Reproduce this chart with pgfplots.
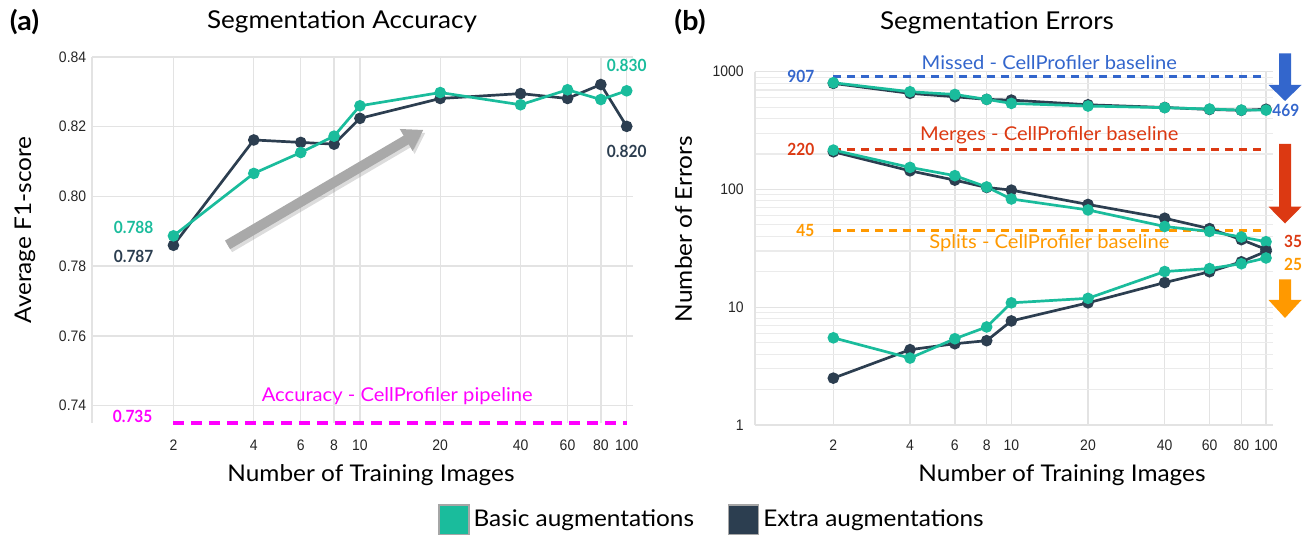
\documentclass[border=0pt]{standalone}
\usepackage{fontspec}
\setmainfont{Lato}[FakeStretch=1.06]
\newfontfamily\tickfont[FakeStretch=0.92]{Liberation Sans}
\newfontfamily\numfam[FakeStretch=0.92]{Lato}
\usepackage{pgfplots}
\pgfplotsset{compat=1.18}
\usetikzlibrary{arrows.meta}

\definecolor{basic}{HTML}{1ABC9C}
\definecolor{extra}{HTML}{2C3E50}
\definecolor{cpmag}{HTML}{FF00FF}
\definecolor{cpblue}{HTML}{3366CC}
\definecolor{cpred}{HTML}{DC3912}
\definecolor{cporange}{HTML}{FF9900}
\definecolor{gridgray}{HTML}{E3E3E3}
\definecolor{arrowgray}{HTML}{A9A9A9}

\newcommand{\labfont}{\fontsize{11.5}{13}\selectfont}
\newcommand{\titfont}{\fontsize{12.3}{14}\selectfont}
\newcommand{\numfont}{\numfam\bfseries\fontsize{8.4}{9}\selectfont}
\newcommand{\basefont}{\fontsize{9.5}{11}\selectfont}
\newcommand{\tickfnt}{\tickfont\fontsize{7.6}{8}\selectfont}

\tikzset{
  ser/.style={draw=#1, line width=1.35pt, mark=*, mark size=2.2pt, mark options={solid, draw=#1, fill=#1}},
  cpline/.style={draw=#1, line width=1.5pt, dash pattern=on 3.8pt off 3.2pt},
}

\begin{document}
\begin{tikzpicture}
\useasboundingbox (0,0) rectangle (653pt,267.5pt);

% (a) accuracy
\begin{axis}[
    scale only axis, anchor=south west, clip=false,
    at={(46pt,56.15pt)}, width=270.5pt, height=182.85pt,
    xmode=log,
    xmin=0.99, xmax=105.6, ymin=0.7351, ymax=0.84,
    xtick={2,4,6,8,10,20,40,60,80,100},
    xticklabels={2,4,6,8,10,20,40,60,80,100},
    minor xtick={},
    ytick={0.74,0.76,0.78,0.80,0.82,0.84},
    yticklabels={0.74,0.76,0.78,0.80,0.82,0.84},
    xmajorgrids, ymajorgrids,
    major grid style={gridgray, line width=0.7pt},
    major tick length=0pt, minor tick length=0pt,
    axis lines*=left,
    x axis line style={draw=none},
    y axis line style={draw=gridgray, line width=0.7pt},
    tick label style={font=\tickfnt, text=black!85, inner sep=0pt},
    yticklabel style={anchor=east, xshift=-2.7pt},
    xticklabel style={anchor=north, yshift=-8.5pt},
    legend style={at={(1.148,-0.2661)}, anchor=center, draw=none, fill=none,
      font=\labfont, inner sep=0pt, legend columns=2,
      /tikz/every even column/.append style={column sep=15pt}},
  ]
  \addlegendimage{legend image code/.code={\draw[fill=basic, draw=gray!70, line width=0.6pt] (0pt,-7.5pt) rectangle (15pt,7.5pt);}}
  \addlegendentry{Basic augmentations}
  \addlegendimage{legend image code/.code={\draw[fill=extra, draw=gray!70, line width=0.6pt] (0pt,-7.5pt) rectangle (15pt,7.5pt);}}
  \addlegendentry{Extra augmentations}

  \addplot[cpline=cpmag, line width=2pt, dash pattern=on 5.3pt off 3.7pt, forget plot] coordinates {(2,0.735) (100,0.735)};

  \draw[line width=5pt, black!45, opacity=0.3, -{Triangle[length=10pt,width=12pt]}]
    ([xshift=1pt,yshift=-1.5pt]axis cs:3.19,0.7861) -- ([xshift=1pt,yshift=-1.5pt]axis cs:17.3,0.8191);
  \draw[line width=5pt, arrowgray, -{Triangle[length=10pt,width=12pt]}]
    (axis cs:3.19,0.7861) -- (axis cs:17.3,0.8191);

  \addplot[ser=extra, forget plot] coordinates {
    (2,0.7860) (4,0.8162) (6,0.8155) (8,0.8150) (10,0.8224)
    (20,0.8281) (40,0.8295) (60,0.8281) (80,0.8321) (100,0.8201)};
  \addplot[ser=basic, forget plot] coordinates {
    (2,0.7887) (4,0.8066) (6,0.8126) (8,0.8173) (10,0.8260)
    (20,0.8298) (40,0.8263) (60,0.8306) (80,0.8278) (100,0.8303)};

  \node[basic, font=\numfont, anchor=east, xshift=-6.5pt] at (axis cs:2,0.791) {0.788};
  \node[extra, font=\numfont, anchor=east, xshift=-6.5pt] at (axis cs:2,0.7827) {0.787};
  \node[cpmag, font=\numfont, anchor=east, xshift=-7pt] at (axis cs:2,0.7368) {0.735};
  \node[basic, font=\numfont] at (axis cs:100,0.8375) {0.830};
  \node[extra, font=\numfont] at (axis cs:100,0.8130) {0.820};
  \node[cpmag, font=\basefont] at (axis cs:13.8,0.7426) {Accuracy - CellProfiler pipeline};
\end{axis}

% (b) errors
\begin{axis}[
    scale only axis, anchor=south west, clip=false,
    at={(377.5pt,55pt)}, width=259.15pt, height=176.65pt,
    xmode=log, ymode=log,
    xmin=0.985, xmax=106.8, ymin=1, ymax=1000,
    xtick={2,4,6,8,10,20,40,60,80,100},
    xticklabels={2,4,6,8,10,20,40,60,80,100},
    minor xtick={},
    ytick={1,10,100,1000}, yticklabels={1,10,100,1000},
    minor ytick={2,3,4,5,6,7,8,9,20,30,40,50,60,70,80,90,200,300,400,500,600,700,800,900},
    xmajorgrids, ymajorgrids, yminorgrids,
    major grid style={gridgray, line width=0.7pt},
    minor grid style={gridgray!70, line width=0.55pt},
    major tick length=0pt, minor tick length=0pt,
    axis lines*=left,
    x axis line style={draw=none},
    y axis line style={draw=gridgray, line width=0.7pt},
    tick label style={font=\tickfnt, text=black!85, inner sep=0pt},
    yticklabel style={anchor=east, xshift=-5.5pt},
    xticklabel style={anchor=north, yshift=-7.3pt},
  ]
  \addplot[cpline=cpblue] coordinates {(2,907) (100,907)};
  \addplot[cpline=cpred] coordinates {(2,220) (100,220)};
  \addplot[cpline=cporange] coordinates {(2,45) (100,45)};

  % missed
  \addplot[ser=extra] coordinates {
    (2,796) (4,655) (6,613) (8,582) (10,574) (20,524) (40,497) (60,478) (80,470) (100,480)};
  \addplot[ser=basic] coordinates {
    (2,806) (4,676) (6,641) (8,582) (10,538) (20,511) (40,495) (60,482) (80,472) (100,472)};
  % merges
  \addplot[ser=extra] coordinates {
    (2,209) (4,144) (6,120) (8,104) (10,98.7) (20,74.6) (40,57) (60,46.5) (80,37.5) (100,31)};
  \addplot[ser=basic] coordinates {
    (2,216) (4,154) (6,131) (8,105) (10,83) (20,67) (40,48.5) (60,44) (80,39.5) (100,36)};
  % splits
  \addplot[ser=extra] coordinates {
    (2,2.5) (4,4.36) (6,4.9) (8,5.2) (10,7.65) (20,10.9) (40,16.2) (60,20) (80,24.3) (100,29.8)};
  \addplot[ser=basic] coordinates {
    (2,5.5) (4,3.7) (6,5.4) (8,6.8) (10,10.9) (20,11.9) (40,20.1) (60,21.3) (80,23.4) (100,26.2)};

  \node[cpblue, font=\numfont, anchor=east, xshift=-6pt] at (axis cs:2,907) {907};
  \node[cpred, font=\numfont, anchor=east, xshift=-6pt] at (axis cs:2,220) {220};
  \node[cporange, font=\numfont, anchor=east, xshift=-6pt] at (axis cs:2,45) {45};
  \node[cpblue, font=\numfont, anchor=west, xshift=2.5pt, inner sep=0.5pt] at (axis cs:100,469) {469};
  \node[cpred, font=\numfont, anchor=west, xshift=5.5pt] at (axis cs:100,36) {35};
  \node[cporange, font=\numfont, anchor=west, xshift=5.5pt] at (axis cs:100,23) {25};
  \node[cpblue, font=\basefont] at (axis cs:14.1,1200) {Missed - CellProfiler baseline};
  \node[cpred, font=\basefont] at (axis cs:14.1,290) {Merges - CellProfiler baseline};
  \node[cporange, font=\basefont] at (axis cs:14.1,35.2) {Splits - CellProfiler baseline};
\end{axis}

% big arrows on the right
\fill[cpblue] (639.5pt,240.85pt) -- (645.5pt,240.85pt) -- (645.5pt,225pt) -- (650.75pt,225pt)
  -- (642.5pt,217pt) -- (634.25pt,225pt) -- (639.5pt,225pt) -- cycle;
\fill[cpred] (639.5pt,195.5pt) -- (645.5pt,195.5pt) -- (645.5pt,164.15pt) -- (650.75pt,164.15pt)
  -- (642.5pt,155.75pt) -- (634.25pt,164.15pt) -- (639.5pt,164.15pt) -- cycle;
\fill[cporange] (639.5pt,127.85pt) -- (645.5pt,127.85pt) -- (645.5pt,117.5pt) -- (650.75pt,117.5pt)
  -- (642.5pt,108.5pt) -- (634.25pt,117.5pt) -- (639.5pt,117.5pt) -- cycle;

% titles and axis labels
\node[font=\bfseries\fontsize{13.5}{15}\selectfont] at (12.25pt,256.65pt) {(a)};
\node[font=\titfont] at (171pt,256.65pt) {Segmentation Accuracy};
\node[font=\bfseries\fontsize{13.5}{15}\selectfont] at (345pt,256.3pt) {(b)};
\node[font=\titfont] at (498.5pt,256.3pt) {Segmentation Errors};
\node[font=\labfont, rotate=90] at (12.5pt,152.5pt) {Average F1-score};
\node[font=\labfont, rotate=90] at (341.75pt,153pt) {Number of Errors};
\node[font=\labfont] at (185.5pt,30pt) {Number of Training Images};
\node[font=\labfont] at (531pt,30pt) {Number of Training Images};
\end{tikzpicture}
\end{document}
